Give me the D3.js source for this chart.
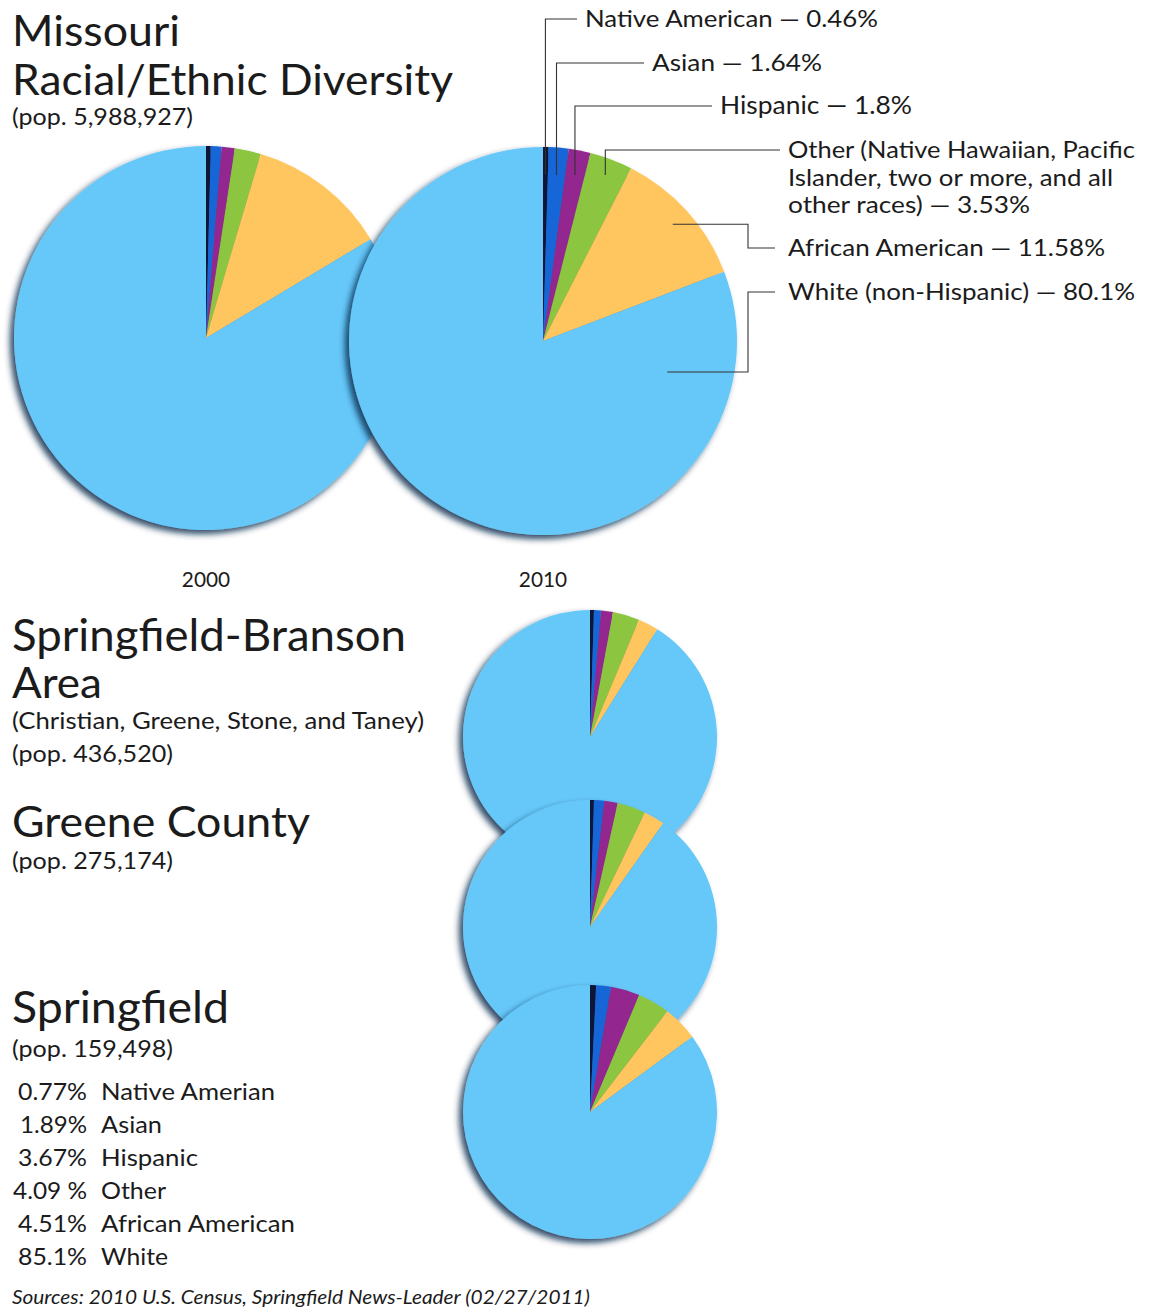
<!DOCTYPE html>
<html>
<head>
<meta charset="utf-8">
<script src="https://cdn.jsdelivr.net/npm/d3@7"></script>
<style>
  html, body { margin: 0; padding: 0; background: #fff; }
  svg { display: block; }
  text { font-family: Lato, "Open Sans", sans-serif; fill: #1b1b1b; }
</style>
</head>
<body>
<svg id="chart" width="1150" height="1310"></svg>
<script>
// ---- data ----
const categories = ["Native American", "Asian", "Hispanic", "Other", "African American", "White"];
const sliceColors = ["#0b1236", "#1666d8", "#93278f", "#8cc63f", "#ffc65e", "#66c8f9"];

const missouri2000 = [0.4, 0.9, 1.1, 2.2, 11.8, 83.6];
const missouri2010 = [0.46, 1.64, 1.8, 3.53, 11.58, 80.1];
const springfieldBranson = [0.5, 0.9, 1.5, 3.4, 2.6, 91.1];
const greeneCounty = [0.5, 1.3, 1.7, 3.6, 2.7, 90.2];
const springfieldCity = [0.77, 1.89, 3.67, 4.09, 4.51, 85.1];

const missouriLabels = [
  "Native American",
  "Asian",
  "Hispanic",
  "Other (Native Hawaiian, Pacific\nIslander, two or more, and all\nother races)",
  "African American",
  "White (non-Hispanic)"
];
const springfieldLabels = ["Native Amerian", "Asian", "Hispanic", "Other", "African American", "White"];
const springfieldValueText = ["0.77%", "1.89%", "3.67%", "4.09 %", "4.51%", "85.1%"];
const yearLabels = ["2000", "2010"];

// ---- drawing ----
const svg = d3.select("#chart");

const defs = svg.append("defs");
const f = defs.append("filter").attr("id", "pieShadow")
  .attr("x", "-15%").attr("y", "-15%").attr("width", "130%").attr("height", "130%");
f.append("feGaussianBlur").attr("in", "SourceAlpha").attr("stdDeviation", 3);
f.append("feOffset").attr("dx", -4).attr("dy", 4).attr("result", "blur");
f.append("feFlood").attr("flood-color", "#0b2a4c").attr("flood-opacity", 0.85);
f.append("feComposite").attr("in2", "blur").attr("operator", "in").attr("result", "shadow");
const fm = f.append("feMerge");
fm.append("feMergeNode").attr("in", "shadow");
fm.append("feMergeNode").attr("in", "SourceGraphic");

const pie = d3.pie().sort(null).value(d => d);
const color = d3.scaleOrdinal().domain(categories).range(sliceColors);

function drawPie(values, cx, cy, r) {
  const arc = d3.arc().innerRadius(0).outerRadius(r);
  const g = svg.append("g")
    .attr("transform", `translate(${cx},${cy})`)
    .attr("filter", "url(#pieShadow)");
  const arcs = pie(values);
  g.selectAll("path")
    .data(arcs)
    .join("path")
    .attr("d", arc)
    .attr("fill", (d, i) => color(categories[i]));
  return arcs;
}

// fit a text element to a target width: split the difference between
// a font-size change and a horizontal stretch
function fit(sel, size, width) {
  if (!width) return sel;
  const w0 = sel.node().getComputedTextLength();
  const ratio = width / w0;
  const s = size * Math.max(0.92, Math.min(1.12, Math.sqrt(ratio)));
  sel.attr("font-size", s);
  const w1 = sel.node().getComputedTextLength();
  if (Math.abs(w1 - width) / width > 0.01) {
    sel.attr("textLength", width).attr("lengthAdjust", "spacingAndGlyphs");
  }
  return sel;
}

function label(x, y, txt, size, width, opts = {}) {
  const t = svg.append("text")
    .attr("x", x).attr("y", y)
    .attr("font-size", size)
    .attr("text-anchor", opts.anchor || "start")
    .style("font-style", opts.italic ? "italic" : "normal")
    .text(txt);
  return fit(t, size, width);
}

// Missouri pies
const mo = { c2000: [206, 338], r2000: 192, c2010: [543, 341], r2010: 194 };
drawPie(missouri2000, mo.c2000[0], mo.c2000[1], mo.r2000);
const arcs2010 = drawPie(missouri2010, mo.c2010[0], mo.c2010[1], mo.r2010);

// year captions
label(mo.c2000[0], 587, yearLabels[0], 21, 48, { anchor: "middle" });
label(mo.c2010[0], 587, yearLabels[1], 21, 48, { anchor: "middle" });

// titles
label(12, 46, "Missouri", 42, 168);
label(12, 95, "Racial/Ethnic Diversity", 42, 441);
label(12, 125, "(pop. 5,988,927)", 20, 181);

// callouts for the 2010 pie
const calloutX = [585, 652, 720, 788, 788, 788];
const calloutY = [27, 71, 114, 158, 256, 300];
const calloutW = [[293], [170], [192], [347, 325, 242], [317], [347]];
const lineH = 27.5;
const leader = svg.append("g").attr("fill", "none").attr("stroke", "#333").attr("stroke-width", 1.1);
const [cx10, cy10] = mo.c2010;

missouriLabels.forEach((name, i) => {
  const lines = name.split("\n");
  lines[lines.length - 1] += " \u2014 " + missouri2010[i] + "%";
  lines.forEach((ln, j) => label(calloutX[i], calloutY[i] + j * lineH, ln, 22, calloutW[i][j]));

  const a = arcs2010[i];
  const mid = (a.startAngle + a.endAngle) / 2;
  const hy = calloutY[i] - 8;
  let pts;
  if (i < 4) {
    const yEnd = 175;
    const vx = cx10 + (cy10 - yEnd) * Math.tan(mid);
    pts = [[vx, yEnd], [vx, hy], [calloutX[i] - 8, hy]];
  } else if (i === 4) {
    const rr = mo.r2010 * 0.9;
    const sx = cx10 + rr * Math.sin(mid), sy = cy10 - rr * Math.cos(mid);
    pts = [[sx, sy], [748, sy], [748, hy], [calloutX[i] - 13, hy]];
  } else {
    const ang = 104 * Math.PI / 180, rr = mo.r2010 * 0.66;
    const sx = cx10 + rr * Math.sin(ang), sy = cy10 - rr * Math.cos(ang);
    pts = [[sx, sy], [748, sy], [748, hy], [calloutX[i] - 13, hy]];
  }
  leader.append("path").attr("d", d3.line()(pts));
});

// regional pies
const regional = { cx: 590, r: 127, cy: [737, 927, 1112] };
drawPie(springfieldBranson, regional.cx, regional.cy[0], regional.r);
drawPie(greeneCounty, regional.cx, regional.cy[1], regional.r);
drawPie(springfieldCity, regional.cx, regional.cy[2], regional.r);

label(12, 651, "Springfield-Branson", 42, 394);
label(12, 698, "Area", 42, 90);
label(12, 729, "(Christian, Greene, Stone, and Taney)", 20, 412);
label(12, 762, "(pop. 436,520)", 20, 161);

label(12, 837, "Greene County", 42, 298);
label(12, 869, "(pop. 275,174)", 20, 161);

label(12, 1023, "Springfield", 42, 217);
label(12, 1057, "(pop. 159,498)", 20, 161);

// Springfield breakdown list
const valueW = [69, 67, 69, 74, 69, 69];
const nameW = [174, 61, 97, 65, 194, 67];
springfieldLabels.forEach((name, i) => {
  const y = 1100 + i * 33;
  label(87, y, springfieldValueText[i], 22, valueW[i], { anchor: "end" });
  label(101, y, name, 22, nameW[i]);
});

label(12, 1304, "Sources: 2010 U.S. Census, Springfield News-Leader (02/27/2011)", 17, 578, { italic: true });
</script>
</body>
</html>
